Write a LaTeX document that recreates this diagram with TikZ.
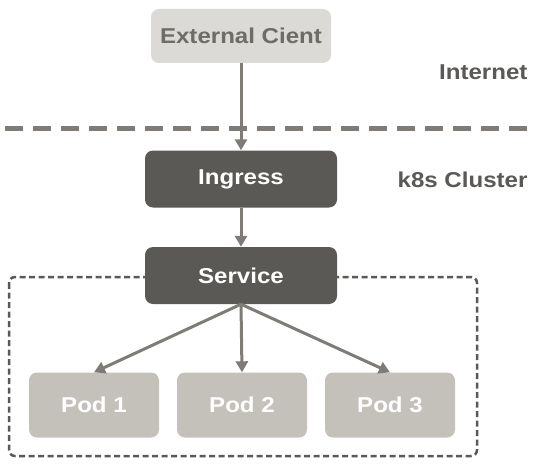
\documentclass[tikz,border=0pt]{standalone}
\usepackage{fontspec}
\setmainfont{Liberation Sans}[FakeStretch=1.12]
\usetikzlibrary{arrows.meta}
\definecolor{lightbox}{HTML}{DCDAD6}
\definecolor{lighttext}{HTML}{6E6C67}
\definecolor{darkbox}{HTML}{5A5955}
\definecolor{podbox}{HTML}{C4C1BB}
\definecolor{linegray}{HTML}{7F7C77}
\definecolor{labelgray}{HTML}{5A5955}
\begin{document}
\begin{tikzpicture}[x=1pt, y=-1pt,
        every node/.style={font=\fontsize{21.5}{24}\selectfont\bfseries},
        box/.style={rectangle, rounded corners=8pt, inner sep=0pt},
        client/.style={box, fill=lightbox, text=lighttext, minimum width=180pt, minimum height=54pt},
        kube/.style={box, fill=darkbox, text=white, minimum width=192pt, minimum height=57pt},
        pod/.style={box, fill=podbox, text=white, minimum width=130pt, minimum height=65pt},
        zone/.style={text=labelgray, anchor=east},
        arr/.style={linegray, line width=3pt, -{Triangle[width=12pt,length=11pt]}}
    ]
        \useasboundingbox (0,0) rectangle (540,468);

        % cluster boundary and network border
        \draw [labelgray, line width=2.5pt, dash pattern=on 6pt off 3.5pt, rounded corners=6pt] (9,277) rectangle (477,456);
        \draw [linegray, line width=5pt, dash pattern=on 18pt off 10pt] (5,128) -- (532,128);

        \node[client] (client) at (241,36) {External Cient};
        \node[zone] (internet) at (531,72) {Internet};
        \node[kube] (ingress) at (241,179) {Ingress};
        \node[zone] (cluster) at (531,180) {k8s Cluster};
        \node[kube] (service) at (241,275.5) {Service};
        \foreach \i/\x in {1/94,2/242,3/390} {
            \node[pod] (pod\i) at (\x,405) {Pod \i};
        }

        \draw [arr] (client.south) -- (ingress.north);
        \draw [arr] (ingress.south) -- (service.north);
        \foreach \i in {1,2,3} {
            \draw [arr] (service.south) -- (pod\i.north);
        }
    \end{tikzpicture}
\end{document}
